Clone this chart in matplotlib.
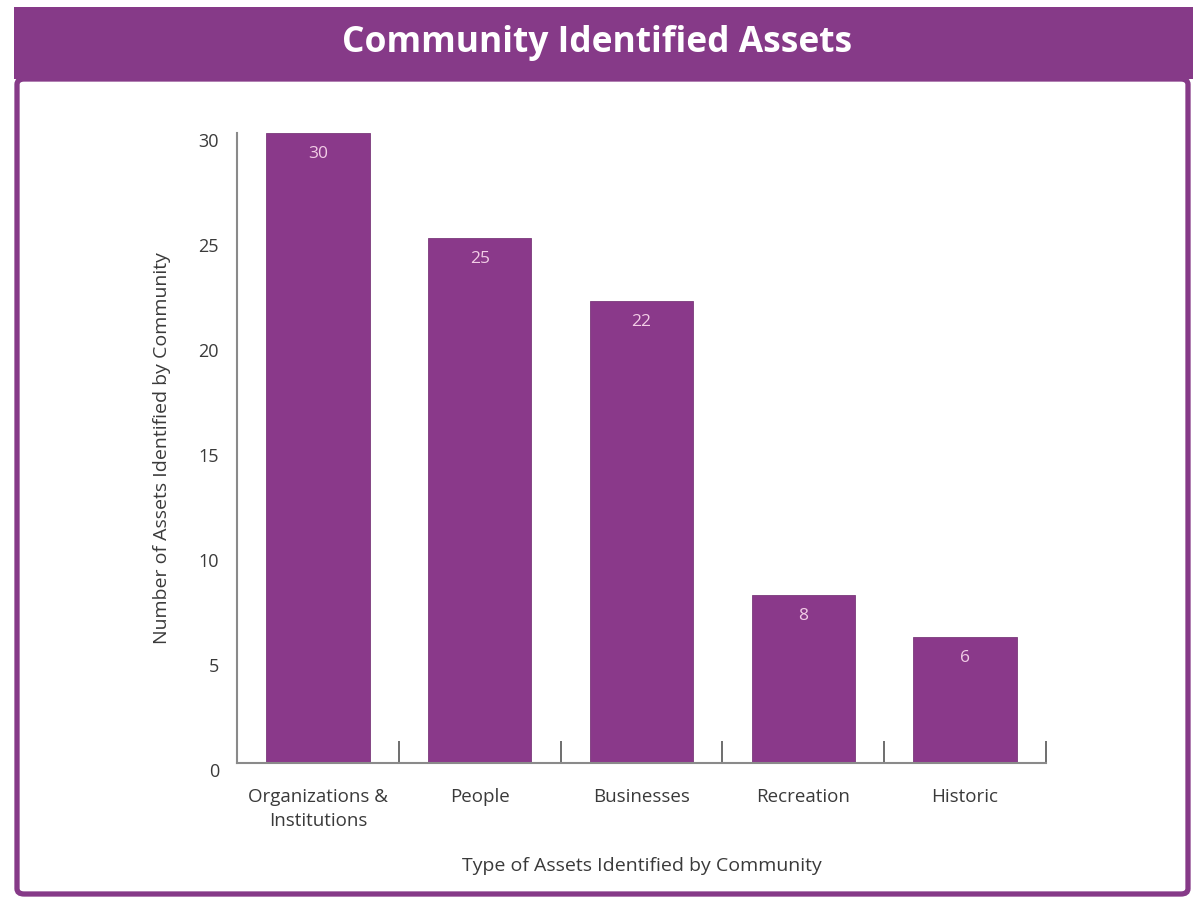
import matplotlib.pyplot as plt
import matplotlib.transforms as mtransforms
from matplotlib.patches import Rectangle, FancyBboxPatch

# data
categories = ['Organizations &\nInstitutions', 'People', 'Businesses', 'Recreation', 'Historic']
counts = [30, 25, 22, 8, 6]
y_ticks = [0, 5, 10, 15, 20, 25, 30]

purple = '#863a88'
bar_purple = '#8a398a'
text_grey = '#3a3a3a'

plt.rcParams['font.family'] = ['Open Sans', 'DejaVu Sans']

W, H = 1193, 898
fig = plt.figure(figsize=(W / 100, H / 100), dpi=100)

# outer frame and header band (figure pixel coords -> fractions)
def fx(px):
    return px / W

def fy(py):
    return 1 - py / H

frame = FancyBboxPatch((fx(17), fy(894)), fx(1188) - fx(17), fy(79) - fy(894),
                       boxstyle='round,pad=0,rounding_size=0.006',
                       transform=fig.transFigure, facecolor='none',
                       edgecolor=purple, linewidth=3.8, zorder=0)
fig.patches.append(frame)
header = Rectangle((fx(14), fy(79)), 1 - fx(14), fy(7) - fy(79),
                   transform=fig.transFigure, facecolor=purple,
                   edgecolor='none', zorder=1)
fig.patches.append(header)
fig.text(fx(597), fy(43), 'Community Identified Assets', color='white',
         fontsize=25.5, fontweight='bold', ha='center', va='center')

ax = fig.add_axes([fx(237), fy(763), fx(1046) - fx(237), fy(133) - fy(763)])
ax.patch.set_alpha(0)
x = list(range(len(categories)))
ax.bar(x, counts, width=0.64, color=bar_purple, edgecolor='#7a3a7a', linewidth=0.6)
for xi, c in zip(x, counts):
    ax.text(xi, c - 1.0, str(c), ha='center', va='center', color='#f2cde6', fontsize=12.5)

ax.set_xlim(-0.5, len(categories) - 0.5)
ax.set_ylim(0, 30)
ax.set_yticks(y_ticks)
ax.set_xticks(x)
ax.set_xticklabels(categories, fontsize=13.5, color=text_grey, linespacing=1.45)
ax.tick_params(axis='x', length=0, pad=18)
ax.tick_params(axis='y', length=0, pad=13, labelsize=13, labelcolor=text_grey)

# y tick labels sit slightly below their values in the original
offset = mtransforms.ScaledTranslation(0, -7 / 100, fig.dpi_scale_trans)
for lab in ax.get_yticklabels():
    lab.set_transform(lab.get_transform() + offset)

# upward separator ticks between categories
ax.set_xticks([i + 0.5 for i in x], minor=True)
ax.tick_params(axis='x', which='minor', direction='in', length=16, width=1.2, color='#555555')

for s in ['top', 'right']:
    ax.spines[s].set_visible(False)
for s in ['left', 'bottom']:
    ax.spines[s].set_color('#8a8a8a')
    ax.spines[s].set_linewidth(1.5)

ax.set_ylabel('Number of Assets Identified by Community', fontsize=14, color=text_grey, labelpad=20)
ax.set_xlabel('Type of Assets Identified by Community', fontsize=14, color=text_grey, labelpad=19)

fig.savefig('out.png', dpi=100)
